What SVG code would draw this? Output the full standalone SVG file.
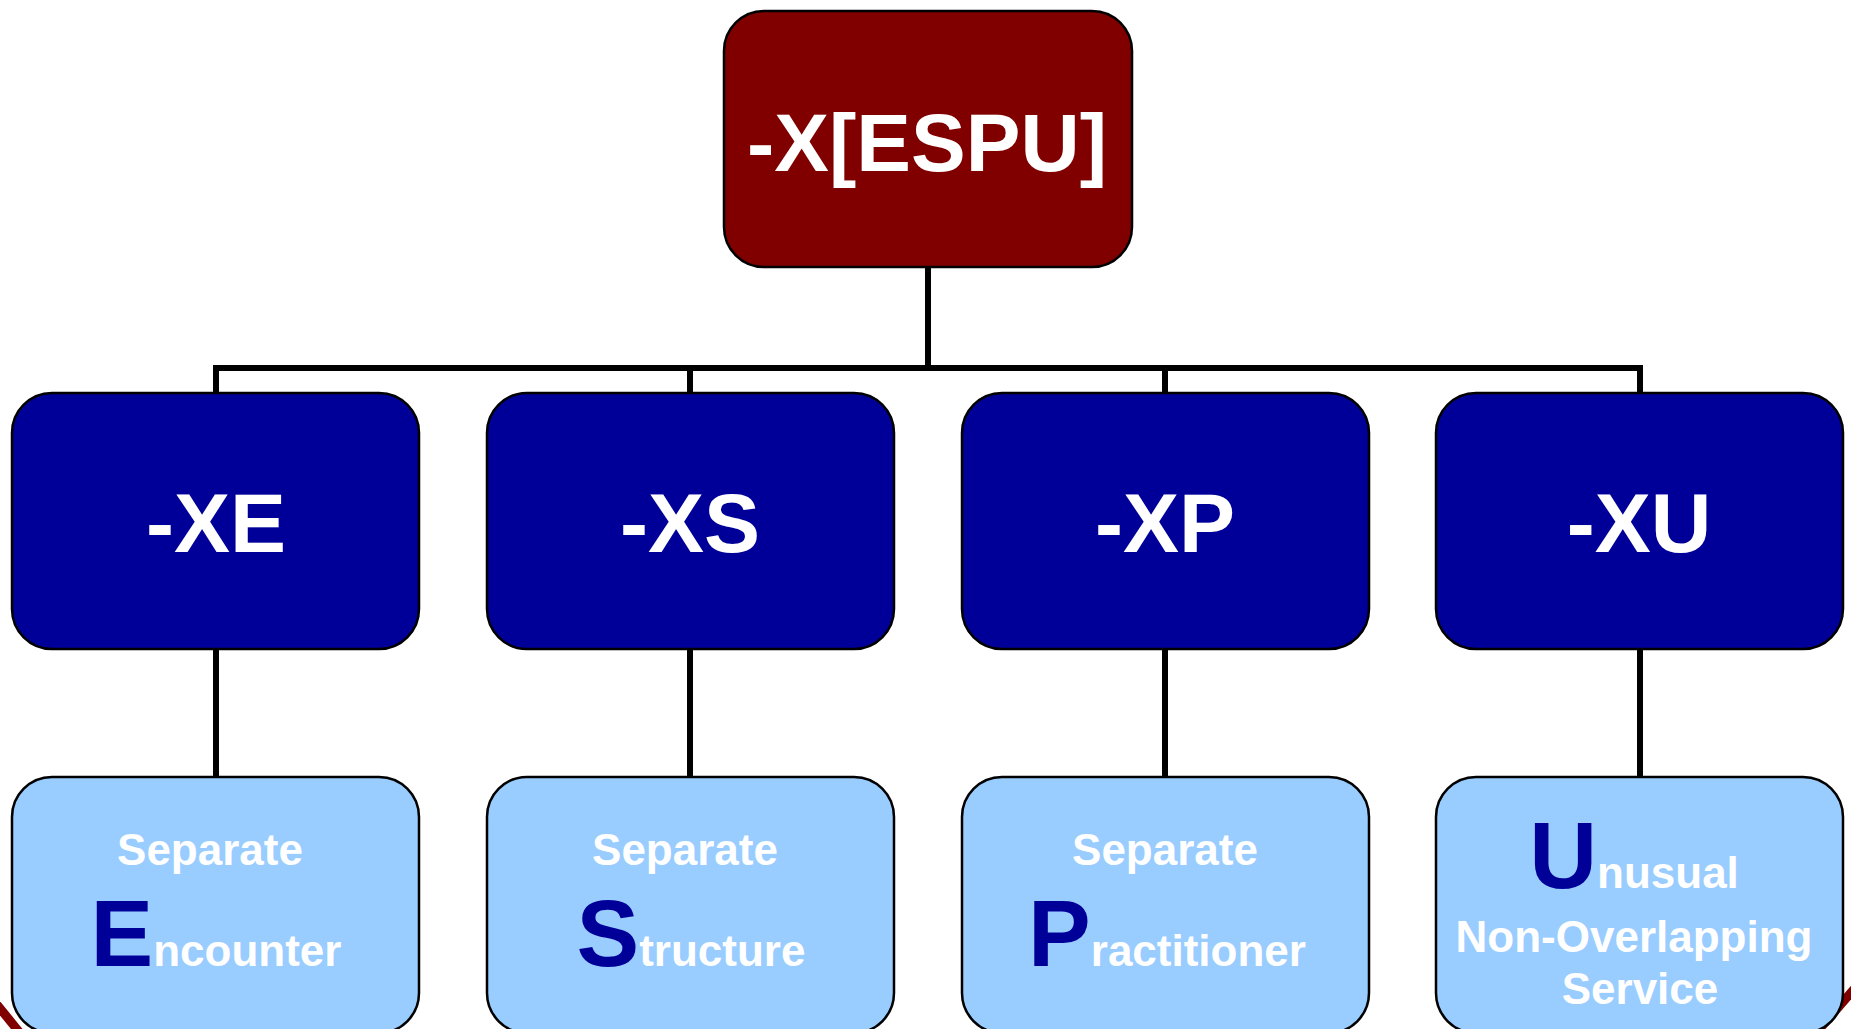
<svg xmlns="http://www.w3.org/2000/svg" width="1851" height="1029" viewBox="0 0 1851 1029">
<style>
text{font-family:"Liberation Sans",Arial,Helvetica,sans-serif;font-weight:bold;fill:#fff;text-anchor:middle}
.box{stroke:#000;stroke-width:2.5}
.root{fill:#800000}
.mid{fill:#000099}
.leaf{fill:#99CCFF}
.big{font-size:84px}
.rt{font-size:82px}
.sm{font-size:44px}
.ini{fill:#000099;font-size:94px}
.conn{fill:none;stroke:#000;stroke-width:6;stroke-linejoin:miter;stroke-linecap:butt}
.deco{fill:none;stroke:#800000;stroke-width:9}
</style>
<g id="decoration">
<line class="deco" x1="-10" y1="996" x2="24" y2="1038"/>
<line class="deco" x1="1862" y1="980" x2="1810" y2="1040"/>
</g>
<g id="connectors">
<line class="conn" x1="928" y1="267" x2="928" y2="368"/>
<path class="conn" d="M216,393 V368 H1640 V393"/>
<line class="conn" x1="690" y1="368" x2="690" y2="393"/>
<line class="conn" x1="1165" y1="368" x2="1165" y2="393"/>
<line class="conn" x1="216" y1="649" x2="216" y2="777"/>
<line class="conn" x1="690" y1="649" x2="690" y2="777"/>
<line class="conn" x1="1165" y1="649" x2="1165" y2="777"/>
<line class="conn" x1="1640" y1="649" x2="1640" y2="777"/>
</g>
<g id="root">
<rect class="box root" x="724" y="11" width="408" height="256" rx="40"/>
<text class="rt" x="927" y="171">-X[ESPU]</text>
</g>
<g id="xe">
<rect class="box mid" x="12" y="393" width="407" height="256" rx="40"/>
<text class="big" x="216" y="552">-XE</text>
</g>
<g id="xs">
<rect class="box mid" x="487" y="393" width="407" height="256" rx="40"/>
<text class="big" x="690" y="552">-XS</text>
</g>
<g id="xp">
<rect class="box mid" x="962" y="393" width="407" height="256" rx="40"/>
<text class="big" x="1165" y="552">-XP</text>
</g>
<g id="xu">
<rect class="box mid" x="1436" y="393" width="407" height="256" rx="40"/>
<text class="big" x="1639" y="552">-XU</text>
</g>
<g id="encounter">
<rect class="box leaf" x="12" y="777" width="407" height="256" rx="40"/>
<text class="sm" x="210" y="865">Separate</text>
<text x="216" y="966"><tspan class="ini">E</tspan><tspan class="sm">ncounter</tspan></text>
</g>
<g id="structure">
<rect class="box leaf" x="487" y="777" width="407" height="256" rx="40"/>
<text class="sm" x="685" y="865">Separate</text>
<text x="691" y="966"><tspan class="ini">S</tspan><tspan class="sm">tructure</tspan></text>
</g>
<g id="practitioner">
<rect class="box leaf" x="962" y="777" width="407" height="256" rx="40"/>
<text class="sm" x="1165" y="865">Separate</text>
<text x="1167" y="966"><tspan class="ini">P</tspan><tspan class="sm">ractitioner</tspan></text>
</g>
<g id="unusual">
<rect class="box leaf" x="1436" y="777" width="407" height="256" rx="40"/>
<text x="1634" y="888"><tspan class="ini">U</tspan><tspan class="sm">nusual</tspan></text>
<text class="sm" x="1634" y="952">Non-Overlapping</text>
<text class="sm" x="1640" y="1004">Service</text>
</g>
</svg>
